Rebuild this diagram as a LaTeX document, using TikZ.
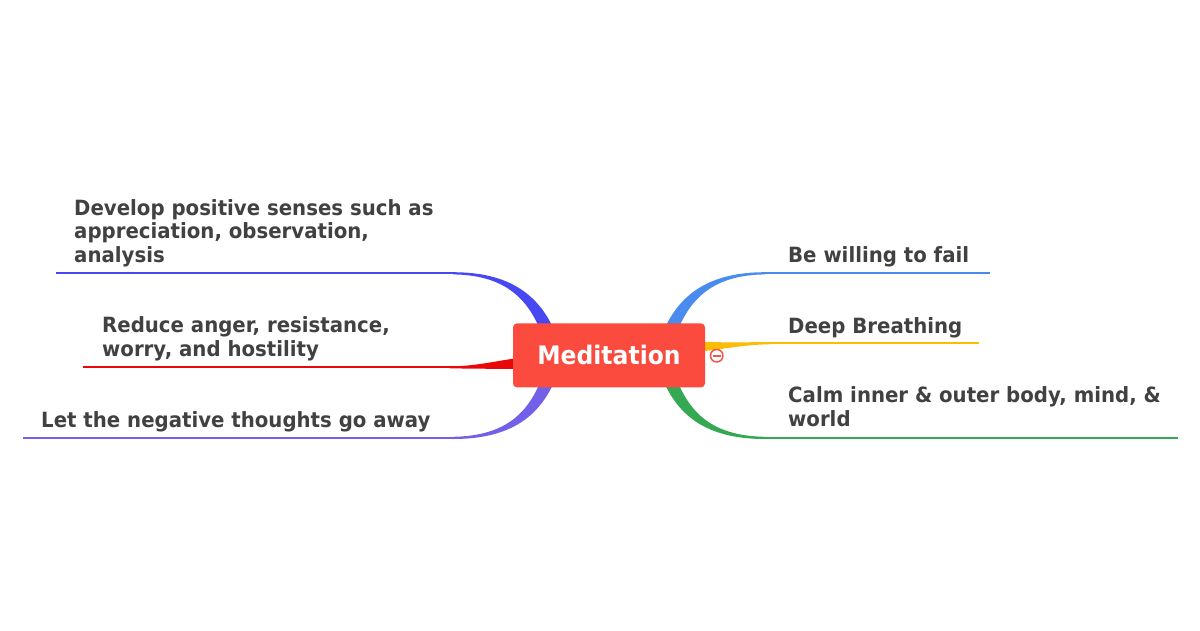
\documentclass[tikz,border=0pt]{standalone}
\usepackage{fontspec}
\setmainfont{DejaVu Sans}
\newfontfamily\branchfont{DejaVu Sans}[FakeStretch=0.94]
\newfontfamily\medfont{DejaVu Sans}[FakeStretch=0.92]
\definecolor{txt}{HTML}{414141}
\definecolor{medred}{HTML}{FA4B3E}
\definecolor{blueL}{HTML}{4848F2}
\definecolor{redL}{HTML}{E80808}
\definecolor{purpL}{HTML}{7360E8}
\definecolor{blueR}{HTML}{4A8BF0}
\definecolor{yelR}{HTML}{FBBC05}
\definecolor{greenR}{HTML}{34A853}
\definecolor{iconred}{HTML}{F2554C}
\tikzset{
  medbox/.style={fill=medred, rounded corners=4pt, minimum width=192pt, minimum height=64pt, inner sep=0pt, text=white, font={\medfont\bfseries\fontsize{25.5}{28}\selectfont}},
  branchtext/.style={anchor=base west, inner sep=0pt, align=left, text=txt, font={\branchfont\bfseries\fontsize{21}{23.5}\selectfont}},
  uline/.style={line width=2.2pt},
}
\begin{document}
\begin{tikzpicture}[x=1pt,y=-1pt]
\path[use as bounding box] (0,0) rectangle (1200,630);

% branch tapers (drawn behind the central node)
\fill[blueR] (663,332) .. controls (680,292) and (712,272.2) .. (765,272.2) -- (765,274.4) .. controls (718,275) and (692,294) .. (677,332) -- cycle;
\fill[yelR] (700,341.5) .. controls (730,343) and (745,342.1) .. (770,342.1) -- (770,344.3) .. controls (745,344.5) and (725,349) .. (700,351.5) -- cycle;
\fill[greenR] (663,380) .. controls (680,420) and (712,439) .. (765,439) -- (765,436.8) .. controls (718,436) and (692,418) .. (677,380) -- cycle;
\fill[blueL] (555,332) .. controls (538,292) and (506,272.2) .. (453,272.2) -- (453,274.4) .. controls (500,275) and (526,294) .. (541,332) -- cycle;
\fill[redL] (518,358) .. controls (490,362) and (475,366.2) .. (450,366.2) -- (450,368.4) .. controls (480,368.6) and (500,369) .. (518,369) -- cycle;
\fill[purpL] (555,380) .. controls (538,420) and (506,439) .. (453,439) -- (453,436.8) .. controls (500,436) and (526,418) .. (541,380) -- cycle;

% underline coordinates
\coordinate (bRa) at (764,273.3);  \coordinate (bRb) at (990,273.3);
\coordinate (yRa) at (769,343.2);  \coordinate (yRb) at (979,343.2);
\coordinate (gRa) at (764,437.9);  \coordinate (gRb) at (1178,437.9);
\coordinate (bLa) at (454,273.3);  \coordinate (bLb) at (56,273.3);
\coordinate (rLa) at (451,367.3);  \coordinate (rLb) at (82.5,367.3);
\coordinate (pLa) at (454,437.9);  \coordinate (pLb) at (22.7,437.9);

\draw[uline, blueR] (bRa) -- (bRb);
\draw[uline, yelR] (yRa) -- (yRb);
\draw[uline, greenR] (gRa) -- (gRb);
\draw[uline, blueL] (bLa) -- (bLb);
\draw[uline, redL] (rLa) -- (rLb);
\draw[uline, purpL] (pLa) -- (pLb);

% central node
\node[medbox] (med) at (609,355.4) {Meditation};

% collapse icon
\node[circle, draw=iconred, fill=white, line width=1.5pt, minimum size=12.5pt, inner sep=0pt] (col) at (716.7,355.7) {};
\draw[iconred, line width=1.8pt] ([xshift=-4pt]col.center) -- ([xshift=4pt]col.center);

% branch texts (base anchor = baseline of the last line)
\node[branchtext] (t1) at (788,262) {Be willing to fail};
\node[branchtext] (t2) at (788,333) {Deep Breathing};
\node[branchtext] (t3) at (788,426) {Calm inner \& outer body, mind, \&\\world};
\node[branchtext] (t4) at (74,262) {Develop positive senses such as\\appreciation, observation,\\analysis};
\node[branchtext] (t5) at (102,356) {Reduce anger, resistance,\\worry, and hostility};
\node[branchtext] (t6) at (41,427) {Let the negative thoughts go away};
\end{tikzpicture}
\end{document}
